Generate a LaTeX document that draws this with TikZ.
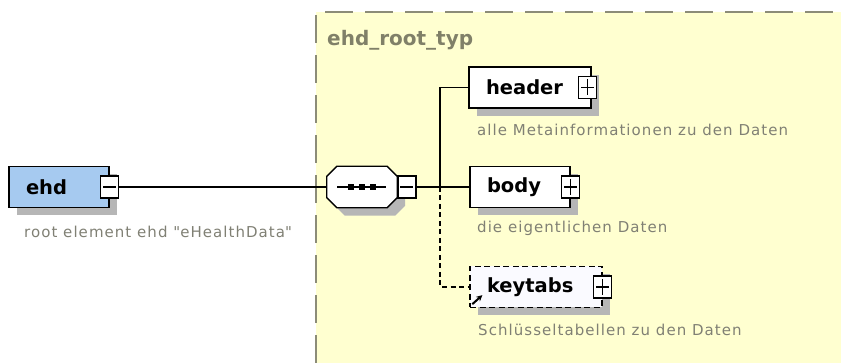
\documentclass[tikz,border=0pt]{standalone}
\usepackage{fontspec}
\setmainfont{DejaVu Sans}
\usepackage{tikz}
\usetikzlibrary{positioning, shapes.misc, arrows.meta, shadows}

\definecolor{panelyellow}{RGB}{255,255,208}
\definecolor{panelborder}{RGB}{140,140,120}
\definecolor{titlegray}{RGB}{128,128,104}
\definecolor{notegray}{RGB}{128,128,116}
\definecolor{ehdblue}{RGB}{166,202,240}
\definecolor{shadowgray}{RGB}{182,182,182}
\definecolor{refwhite}{RGB}{250,250,255}

\begin{document}
\begin{tikzpicture}[
    x=1pt, y=-1pt,
    boxshadow/.style={drop shadow={shadow xshift=8pt, shadow yshift=-8pt, fill=shadowgray, opacity=1}},
    element/.style={draw=black, line width=1.3pt, fill=white, minimum height=41pt,
        inner xsep=17pt, inner ysep=0pt, align=left,
        font=\bfseries\fontsize{19.5}{19.5}\selectfont, boxshadow},
    toggle/.style={draw=black, line width=1.3pt, fill=white, minimum width=18pt,
        minimum height=22pt, inner sep=0pt},
    minus/.style={toggle, path picture={
        \draw[line width=1.3pt] ([xshift=2.5pt]path picture bounding box.west) -- ([xshift=-2.5pt]path picture bounding box.east);}},
    plus/.style={toggle, path picture={
        \draw[line width=1.3pt] ([xshift=2.5pt]path picture bounding box.west) -- ([xshift=-2.5pt]path picture bounding box.east);
        \draw[line width=1.3pt] ([yshift=-3pt]path picture bounding box.north) -- ([yshift=3pt]path picture bounding box.south);}},
    compositor/.style={minimum width=70pt, minimum height=41pt, inner sep=0pt},
    wire/.style={line width=1.2pt, black},
    note/.style={anchor=west, inner sep=0pt, text=notegray,
        font=\fontsize{15}{15}\selectfont\addfontfeature{LetterSpace=7}},
    title/.style={anchor=west, inner sep=0pt, text=titlegray, font=\bfseries\fontsize{20}{20}\selectfont}
]

\def\cut{10pt}

\useasboundingbox (0,0) rectangle (841,363);

% Complex type area
\fill[panelyellow] (316,12) rectangle (841,363);
\draw[panelborder, line width=2pt, dash pattern=on 28pt off 12pt] (316,363) -- (316,12) -- (841,12);
\node[title] (typname) at (327,40) {ehd\_root\_typ};

% Root element
\node[element, fill=ehdblue, text width=66pt] (ehd) at (59,187) {ehd};
\node[minus] (ehdminus) at (ehd.east) {};
\node[note] (ehdnote) at (24,232) {root element ehd \textquotedbl eHealthData\textquotedbl};

% Sequence (octagon drawn round the node)
\node[compositor] (seq) at (362,187) {};
\filldraw[boxshadow, fill=white, draw=black, line width=1.3pt]
    ([xshift=\cut]seq.north west) -- ([xshift=-\cut]seq.north east) -- ([yshift=-\cut]seq.north east)
    -- ([yshift=\cut]seq.south east) -- ([xshift=-\cut]seq.south east) -- ([xshift=\cut]seq.south west)
    -- ([yshift=\cut]seq.south west) -- ([yshift=-\cut]seq.north west) -- cycle;
\draw[wire] ([xshift=-25pt]seq.center) -- ([xshift=24pt]seq.center);
\foreach \dx in {-11,0,11} {
    \fill ([xshift=\dx pt]seq.center) +(-2.8pt,-2.8pt) rectangle +(2.8pt,2.8pt);
}
\node[minus, anchor=west] (seqminus) at (seq.east) {};

% Child elements
\node[element, text width=88pt] (header) at (530,87.5) {header};
\node[plus] (headerplus) at ([xshift=-4pt]header.east) {};
\node[note] (headernote) at (477,130) {alle Metainformationen zu den Daten};

\node[element, text width=66pt] (body) at (520,187) {body};
\node[plus] (bodyplus) at (body.east) {};
\node[note] (bodynote) at (477,228) {die eigentlichen Daten};

\node[element, fill=refwhite, dash pattern=on 6pt off 3.5pt, text width=98pt] (keytabs) at (536,287) {keytabs};
\node[plus] (keytabsplus) at (keytabs.east) {};
\draw[-{Stealth[length=6pt,width=6pt]}, line width=2pt] ([shift={(3,-4)}]keytabs.south west) -- ([shift={(13,-13)}]keytabs.south west);
\node[note] (keytabsnote) at (478,330) {Schlüsseltabellen zu den Daten};

% Connectors
\coordinate (fork) at (440,187);
\draw[wire] (ehdminus) -- (seq);
\draw[wire] (seqminus) -- (body);
\draw[wire] (fork) |- (header.west);
\draw[wire, dash pattern=on 5pt off 3.5pt] (fork) |- (keytabs.west);

\end{tikzpicture}
\end{document}
